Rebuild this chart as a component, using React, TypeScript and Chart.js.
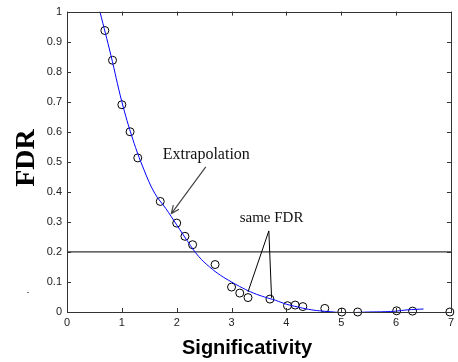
import React, { useEffect, useRef } from "react";
import { Chart, registerables } from "chart.js";

Chart.register(...registerables);

const xTickValues = [0, 1, 2, 3, 4, 5, 6, 7];
const yTickLabels = ["0", "0.1", "0.2", "0.3", "0.4", "0.5", "0.6", "0.7", "0.8", "0.9", "1"];

const pointX = [0.69, 0.83, 1.0, 1.15, 1.29, 1.7, 2.0, 2.15, 2.29, 2.7, 3.0, 3.15, 3.3, 3.7, 4.02, 4.16, 4.3, 4.7, 5.01, 5.3, 6.01, 6.3, 6.98];
const pointY = [0.937, 0.838, 0.69, 0.6, 0.513, 0.368, 0.296, 0.252, 0.224, 0.158, 0.083, 0.063, 0.048, 0.043, 0.021, 0.023, 0.018, 0.012, 0, 0, 0.004, 0.003, 0];

const curveX = [0.6, 0.8, 1.0, 1.2, 1.4, 1.6, 1.8, 2.0, 2.2, 2.4, 2.6, 2.8, 3.0, 3.2, 3.4, 3.6, 3.8, 4.0, 4.2, 4.4, 4.6, 4.8, 5.0, 5.2, 5.5, 5.8, 6.0, 6.2, 6.5];
const curveY = [1.0, 0.855, 0.7, 0.575, 0.475, 0.395, 0.345, 0.29, 0.235, 0.185, 0.15, 0.122, 0.1, 0.08, 0.063, 0.05, 0.039, 0.026, 0.017, 0.009, 0.004, 0.001, -0.002, -0.002, 0, 0.001, 0.003, 0.007, 0.01];

const thresholdX = [0, 7];
const thresholdY = [0.2, 0.2];

const extrapText = "Extrapolation";
const extrapTextPos = [2.54, 0.522];
const extrapArrowFrom = [2.53, 0.483];
const extrapArrowTo = [1.9, 0.327];

const sameText = "same FDR";
const sameTextPos = [3.73, 0.313];
const sameApex = [3.68, 0.27];
const sameEnd1 = [3.3, 0.067];
const sameEnd2 = [3.73, 0.047];

const xTitle = "Significativity";
const yTitle = "FDR";

const decorPlugin = {
  id: "decor",
  afterDraw(chart: any) {
    const { ctx, chartArea: a, scales } = chart;
    const xs = scales.x;
    const ys = scales.y;
    const px = (v: number) => xs.getPixelForValue(v);
    const py = (v: number) => ys.getPixelForValue(v);
    ctx.save();
    // box
    ctx.strokeStyle = "#333";
    ctx.lineWidth = 1;
    ctx.strokeRect(Math.round(a.left) + 0.5, Math.round(a.top) + 0.5, Math.round(a.right - a.left), Math.round(a.bottom - a.top));
    // inward ticks
    ctx.beginPath();
    const tl = 4;
    xTickValues.forEach((v) => {
      const x = Math.round(px(v)) + 0.5;
      ctx.moveTo(x, a.bottom);
      ctx.lineTo(x, a.bottom - tl);
      ctx.moveTo(x, a.top);
      ctx.lineTo(x, a.top + tl);
    });
    yTickLabels.forEach((s) => {
      const y = Math.round(py(parseFloat(s))) + 0.5;
      ctx.moveTo(a.left, y);
      ctx.lineTo(a.left + tl, y);
      ctx.moveTo(a.right, y);
      ctx.lineTo(a.right - tl, y);
    });
    ctx.stroke();

    // Extrapolation arrow
    ctx.strokeStyle = "#444";
    ctx.lineWidth = 1.2;
    const fx = px(extrapArrowFrom[0]), fy = py(extrapArrowFrom[1]);
    const tx = px(extrapArrowTo[0]), ty = py(extrapArrowTo[1]);
    ctx.beginPath();
    ctx.moveTo(fx, fy);
    ctx.lineTo(tx, ty);
    const ang = Math.atan2(ty - fy, tx - fx);
    const hl = 9;
    ctx.moveTo(tx, ty);
    ctx.lineTo(tx - hl * Math.cos(ang - 0.4), ty - hl * Math.sin(ang - 0.4));
    ctx.moveTo(tx, ty);
    ctx.lineTo(tx - hl * Math.cos(ang + 0.4), ty - hl * Math.sin(ang + 0.4));
    ctx.stroke();

    // same FDR lines
    ctx.strokeStyle = "#000";
    ctx.lineWidth = 1;
    ctx.beginPath();
    ctx.moveTo(px(sameEnd1[0]), py(sameEnd1[1]));
    ctx.lineTo(px(sameApex[0]), py(sameApex[1]));
    ctx.lineTo(px(sameEnd2[0]), py(sameEnd2[1]));
    ctx.stroke();

    // texts
    ctx.fillStyle = "#111";
    ctx.textAlign = "center";
    ctx.textBaseline = "middle";
    ctx.font = "16px 'Liberation Serif', 'Times New Roman', serif";
    ctx.fillText(extrapText, px(extrapTextPos[0]), py(extrapTextPos[1]));
    ctx.font = "15px 'Liberation Serif', 'Times New Roman', serif";
    ctx.fillText(sameText, px(sameTextPos[0]), py(sameTextPos[1]));

    // stray mark
    ctx.fillStyle = "#777";
    ctx.fillRect(27, 292, 2, 1);

    // axis titles
    ctx.fillStyle = "#000";
    ctx.font = "bold 20px 'Liberation Sans', Arial, sans-serif";
    ctx.fillText(xTitle, 247, 348);
    ctx.save();
    ctx.translate(27, 158);
    ctx.rotate(-Math.PI / 2);
    ctx.font = "bold 28px 'Liberation Serif', 'Times New Roman', serif";
    ctx.fillText(yTitle, 0, 0);
    ctx.restore();
    ctx.restore();
  },
};

export default function App() {
  const ref = useRef<HTMLCanvasElement | null>(null);
  useEffect(() => {
    if (!ref.current) return;
    const chart = new Chart(ref.current, {
      type: "scatter",
      data: {
        datasets: [
          {
            label: "curve",
            data: curveX.map((x, i) => ({ x, y: curveY[i] })),
            showLine: true,
            borderColor: "#0000ff",
            borderWidth: 1,
            pointRadius: 0,
            tension: 0.4,
            fill: false,
          },
          {
            label: "threshold",
            data: thresholdX.map((x, i) => ({ x, y: thresholdY[i] })),
            showLine: true,
            borderColor: "#000",
            borderWidth: 1,
            pointRadius: 0,
          },
          {
            label: "points",
            data: pointX.map((x, i) => ({ x, y: pointY[i] })),
            pointRadius: 4,
            pointBorderWidth: 1,
            borderColor: "#000",
            backgroundColor: "rgba(0,0,0,0)",
            clip: false,
          } as any,
        ],
      },
      options: {
        animation: false,
        responsive: false,
        maintainAspectRatio: false,
        layout: { padding: { top: 8, right: 5, left: 0, bottom: 0 } },
        plugins: { legend: { display: false }, tooltip: { enabled: false } },
        scales: {
          x: {
            type: "linear",
            min: 0,
            max: 7,
            afterFit: (s: any) => { s.height = 50; },
            afterBuildTicks: (s: any) => { s.ticks = xTickValues.map((v) => ({ value: v })); },
            grid: { display: false, drawTicks: false },
            border: { display: false },
            ticks: {
              padding: 4,
              color: "#222",
              font: { family: "'Liberation Sans', Arial, sans-serif", size: 11 },
              callback: (v: any) => String(v),
            },
          },
          y: {
            type: "linear",
            min: 0,
            max: 1,
            afterFit: (s: any) => { s.width = 67; },
            afterBuildTicks: (s: any) => { s.ticks = yTickLabels.map((t) => ({ value: parseFloat(t) })); },
            grid: { display: false, drawTicks: false },
            border: { display: false },
            ticks: {
              padding: 5,
              color: "#222",
              font: { family: "'Liberation Sans', Arial, sans-serif", size: 11 },
              callback: (v: any) => yTickLabels.find((t) => Math.abs(parseFloat(t) - v) < 1e-6) ?? "",
            },
          },
        },
      },
      plugins: [decorPlugin],
    });
    return () => chart.destroy();
  }, []);
  return (
    <div style={{ position: "fixed", left: 0, top: 0, width: 458, height: 362, background: "#fff" }}>
      <canvas ref={ref} width={458} height={362} style={{ width: 458, height: 362 }} />
    </div>
  );
}
